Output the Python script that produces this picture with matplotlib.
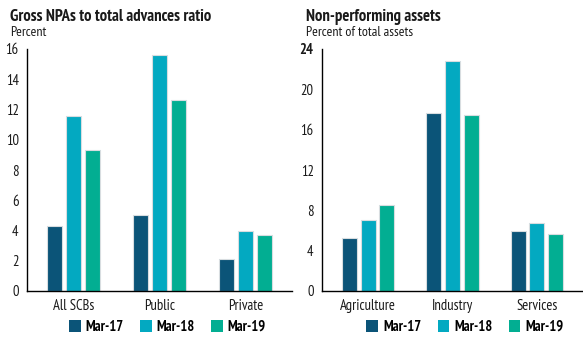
import numpy as np
import matplotlib
matplotlib.use("Agg")
import matplotlib.pyplot as plt
from matplotlib.patches import Patch

plt.rcParams['font.family'] = ['PT Sans Narrow', 'DejaVu Sans']

periods = ["Mar-17", "Mar-18", "Mar-19"]
colors = ["#0b5478", "#03a9c1", "#02ae92"]

# gross NPA ratio by bank group, percent
banks = ["All SCBs", "Public", "Private"]
gnpa_mar17 = [4.3, 5.0, 2.1]
gnpa_mar18 = [11.6, 15.6, 4.0]
gnpa_mar19 = [9.3, 12.6, 3.7]

# non-performing assets by sector, percent of total assets
sectors = ["Agriculture", "Industry", "Services"]
npa_mar17 = [5.3, 17.7, 6.0]
npa_mar18 = [7.0, 22.8, 6.7]
npa_mar19 = [8.5, 17.5, 5.7]

W, H = 583, 342
fig = plt.figure(figsize=(W / 100, H / 100), dpi=100)


def panel(rect, cats, series, ymax, step, title, sub, title_x, leg_x, bold_top=False):
    ax = fig.add_axes(rect)
    x = np.arange(len(cats))
    pitch = 0.222
    for i, vals in enumerate(series):
        ax.bar(x + (i - 1) * pitch, vals, width=0.178, color=colors[i],
               edgecolor="#d8dde0", linewidth=0.8, zorder=2)
    ax.set_xlim(-0.545, 2.545)
    ax.set_ylim(0, ymax)
    ax.set_yticks(np.arange(0, ymax + 1, step))
    ax.set_xticks(x)
    ax.set_xticklabels(cats)
    for s in ["top", "right"]:
        ax.spines[s].set_visible(False)
    ax.spines["left"].set_linewidth(1.0)
    ax.spines["bottom"].set_linewidth(1.0)
    ax.tick_params(axis="both", length=0, labelsize=10.5, colors="#1a1a1a")
    ax.tick_params(axis="y", pad=6)
    ax.tick_params(axis="x", pad=6)
    if bold_top:
        ax.get_yticklabels()[-1].set_fontweight("bold")
    fig.text(title_x / W, 1 - 21 / H, title, fontsize=12, fontweight="bold",
             va="baseline", ha="left", color="#1a1a1a")
    fig.text(title_x / W, 1 - 36 / H, sub, fontsize=10, va="baseline", ha="left",
             color="#1a1a1a")
    handles = [Patch(facecolor=c, edgecolor="none") for c in colors]
    ax.legend(handles, periods, loc="center", bbox_to_anchor=(leg_x, -0.149),
              ncol=3, frameon=False, handlelength=0.8, handleheight=0.8,
              handletextpad=0.35, columnspacing=1.1,
              prop={"weight": "bold", "size": 10.5})
    return ax


panel([27 / W, 51 / H, 265 / W, 242 / H], banks,
      [gnpa_mar17, gnpa_mar18, gnpa_mar19], 16, 2,
      "Gross NPAs to total advances ratio", "Percent", 10, 0.53)
panel([322 / W, 51 / H, 261 / W, 242 / H], sectors,
      [npa_mar17, npa_mar18, npa_mar19], 24, 4,
      "Non-performing assets", "Percent of total assets", 306, 0.548, bold_top=True)

fig.savefig("out.png", dpi=100)
